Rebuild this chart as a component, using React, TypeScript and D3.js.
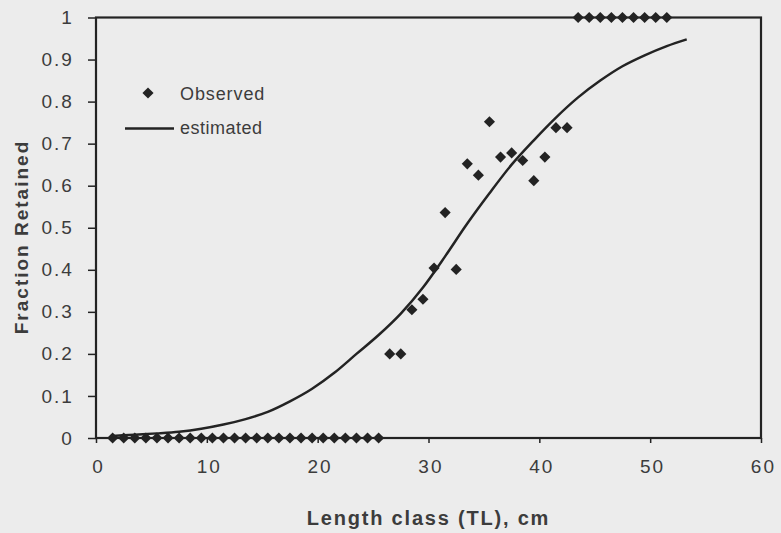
import * as React from 'react';
import * as d3 from 'd3';
import { useRef, useEffect } from 'react';

// Observed fraction retained, by length class (cm)
const observedLength = [
  1.5, 2.5, 3.5, 4.5, 5.5, 6.5, 7.5, 8.5, 9.5, 10.5, 11.5, 12.5, 13.5, 14.5, 15.5, 16.5, 17.5,
  18.5, 19.5, 20.5, 21.5, 22.5, 23.5, 24.5, 25.5, 26.5, 27.5, 28.5, 29.5, 30.5, 31.5, 32.5, 33.5,
  34.5, 35.5, 36.5, 37.5, 38.5, 39.5, 40.5, 41.5, 42.5, 43.5, 44.5, 45.5, 46.5, 47.5, 48.5, 49.5,
  50.5, 51.5,
];
const observedFraction = [
  0, 0, 0, 0, 0, 0, 0, 0, 0, 0, 0, 0, 0, 0, 0, 0, 0,
  0, 0, 0, 0, 0, 0, 0, 0, 0.2, 0.2, 0.305, 0.33, 0.404, 0.536, 0.401, 0.652,
  0.625, 0.752, 0.668, 0.678, 0.66, 0.612, 0.668, 0.738, 0.738, 1, 1, 1, 1, 1, 1, 1,
  1, 1,
];

// Estimated selection curve
const estimatedLength = [
  1.5, 3.5, 5.5, 7.5, 9.5, 11.5, 13.5, 15.5, 17.5, 19.5, 21.5, 23.5, 25.5, 27.5,
  29.5, 31.5, 33.5, 35.5, 37.5, 39.5, 41.5, 43.5, 45.5, 47.5, 49.5, 51.5, 53.3,
];
const estimatedFraction = [
  0.005, 0.008, 0.011, 0.015, 0.022, 0.032, 0.045, 0.062, 0.087, 0.117, 0.155, 0.2, 0.245, 0.296,
  0.358, 0.432, 0.51, 0.582, 0.65, 0.708, 0.762, 0.81, 0.85, 0.884, 0.91, 0.932, 0.948,
];

const xTicks = [0, 10, 20, 30, 40, 50, 60];
const yTicks = [0, 0.1, 0.2, 0.3, 0.4, 0.5, 0.6, 0.7, 0.8, 0.9, 1];

const width = 781;
const height = 533;
const bg = '#ececec';
const ink = '#232323';
const textInk = '#3c3c3c';
const font = '"Liberation Sans", Arial, sans-serif';

export default function App() {
  const svgRef = useRef<SVGSVGElement>(null);

  const x = d3.scaleLinear().domain([0, 60]).range([96, 761]);
  const y = d3.scaleLinear().domain([0, 1]).range([438, 17.5]);

  useEffect(() => {
    const svg = d3.select(svgRef.current);
    svg.selectAll('*').remove();

    svg.append('rect').attr('width', width).attr('height', height).attr('fill', bg);

    // axes
    const xAxis = svg.append('g')
      .attr('transform', `translate(0,${y(0)})`)
      .call(d3.axisBottom(x).tickValues(xTicks).tickSize(5).tickPadding(24).tickFormat(d3.format('d')));
    const yAxis = svg.append('g')
      .attr('transform', `translate(${x(0)},0)`)
      .call(d3.axisLeft(y).tickValues(yTicks).tickSize(8).tickPadding(16).tickFormat(d => d3.format('~g')(d as number)));

    [xAxis, yAxis].forEach(g => {
      g.select('.domain').remove();
      g.selectAll('line').attr('stroke', ink).attr('stroke-width', 1.5);
      g.selectAll('text')
        .attr('fill', textInk)
        .attr('font-family', font)
        .attr('font-size', 19)
        .attr('letter-spacing', 2);
    });
    xAxis.selectAll('text').attr('dy', '0.3em').attr('dx', '0.1em');
    yAxis.selectAll('text').attr('dx', '0.1em');

    // plot frame
    svg.append('rect')
      .attr('x', x(0)).attr('y', y(1))
      .attr('width', x(60) - x(0)).attr('height', y(0) - y(1))
      .attr('fill', 'none').attr('stroke', ink).attr('stroke-width', 2.2);

    // estimated curve
    const line = d3.line<number>()
      .x((_, i) => x(estimatedLength[i]))
      .y(d => y(d))
      .curve(d3.curveMonotoneX);
    svg.append('path')
      .datum(estimatedFraction)
      .attr('d', line)
      .attr('fill', 'none')
      .attr('stroke', ink)
      .attr('stroke-width', 2.5);

    // observed points
    const diamond = d3.symbol().type(d3.symbolSquare).size(62);
    svg.append('g')
      .selectAll('path')
      .data(observedFraction)
      .join('path')
      .attr('d', diamond)
      .attr('transform', (d, i) => `translate(${x(observedLength[i])},${y(d)}) rotate(45)`)
      .attr('fill', ink);

    // legend
    const legend = svg.append('g').attr('font-family', font).attr('font-size', 18).attr('fill', textInk);
    legend.append('path')
      .attr('d', diamond)
      .attr('transform', 'translate(148,93) rotate(45)')
      .attr('fill', ink);
    legend.append('text').attr('x', 180).attr('y', 99.5).attr('letter-spacing', 0.9).text('Observed');
    legend.append('line')
      .attr('x1', 125).attr('x2', 174).attr('y1', 128.5).attr('y2', 128.5)
      .attr('stroke', ink).attr('stroke-width', 2.5);
    legend.append('text').attr('x', 180).attr('y', 134).attr('letter-spacing', 0.5).text('estimated');

    // axis titles
    svg.append('text')
      .attr('x', (x(0) + x(60)) / 2)
      .attr('y', 525)
      .attr('text-anchor', 'middle')
      .attr('font-family', font)
      .attr('font-size', 20)
      .attr('font-weight', 'bold')
      .attr('letter-spacing', 1.8)
      .attr('fill', textInk)
      .text('Length class (TL), cm');

    svg.append('text')
      .attr('transform', 'translate(28,237) rotate(-90)')
      .attr('text-anchor', 'middle')
      .attr('font-family', font)
      .attr('font-size', 19)
      .attr('font-weight', 'bold')
      .attr('letter-spacing', 2)
      .attr('fill', textInk)
      .text('Fraction Retained');
  }, []);

  return (
    <svg
      ref={svgRef}
      width={width}
      height={height}
      style={{ position: 'fixed', left: 0, top: 0, display: 'block' }}
    />
  );
}
